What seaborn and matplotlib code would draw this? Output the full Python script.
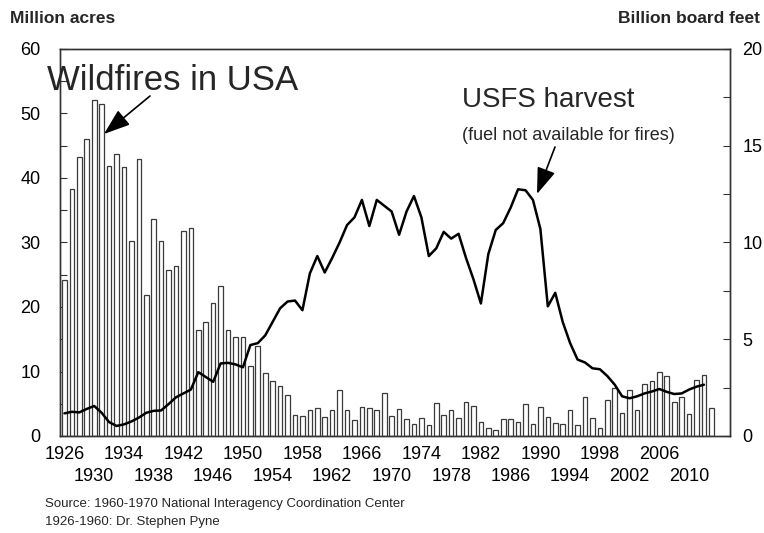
import matplotlib
matplotlib.use("Agg")
import matplotlib.pyplot as plt
import matplotlib.font_manager as fm
import numpy as np
import pandas as pd
import seaborn as sns

# ---------------- data ----------------
fire_years = list(range(1926, 2014))
fire_acres = [
    24.2, 38.3, 43.3, 46.1, 52.1, 51.5, 41.9, 43.7, 41.7, 30.2,   # 1926-1935
    43.0, 21.8, 33.6, 30.3, 25.7, 26.4, 31.8, 32.2, 16.5, 17.7,   # 1936-1945
    20.6, 23.2, 16.5, 15.3, 15.4, 10.8, 14.0, 9.8, 8.6, 7.7,      # 1946-1955
    6.4, 3.2, 3.1, 4.1, 4.4, 2.9, 4.0, 7.1, 4.1, 2.5,             # 1956-1965
    4.5, 4.4, 4.0, 6.6, 3.1, 4.2, 2.6, 1.8, 2.8, 1.7,             # 1966-1975
    5.1, 3.2, 4.0, 2.8, 5.2, 4.6, 2.2, 1.2, 1.0, 2.7,             # 1976-1985
    2.6, 2.2, 4.9, 1.8, 4.5, 2.9, 2.0, 1.8, 4.0, 1.7,             # 1986-1995
    6.0, 2.8, 1.3, 5.6, 7.4, 3.6, 7.1, 4.0, 8.0, 8.6,             # 1996-2005
    9.9, 9.3, 5.2, 6.0, 3.4, 8.7, 9.4, 4.3,                       # 2006-2013
]

harvest_years = list(range(1926, 2013))
harvest_bbf = [
    1.17, 1.25, 1.22, 1.40, 1.55, 1.20, 0.72, 0.52, 0.60, 0.75,   # 1926-1935
    0.95, 1.20, 1.30, 1.32, 1.65, 2.00, 2.20, 2.40, 3.30, 3.05,   # 1936-1945
    2.80, 3.75, 3.78, 3.70, 3.55, 4.70, 4.80, 5.20, 5.90, 6.60,   # 1946-1955
    6.95, 7.00, 6.50, 8.40, 9.30, 8.45, 9.20, 10.0, 10.9, 11.3,   # 1956-1965
    12.2, 10.85, 12.2, 11.9, 11.6, 10.4, 11.6, 12.4, 11.3, 9.30,  # 1966-1975
    9.70, 10.55, 10.2, 10.45, 9.20, 8.10, 6.85, 9.40, 10.65, 11.0,  # 1976-1985
    11.8, 12.75, 12.7, 12.2, 10.7, 6.70, 7.40, 5.90, 4.80, 3.95,  # 1986-1995
    3.80, 3.50, 3.45, 3.10, 2.65, 2.05, 1.95, 2.05, 2.20, 2.30,   # 1996-2005
    2.43, 2.28, 2.17, 2.20, 2.40, 2.55, 2.65,                     # 2006-2012
]

left_ticks = [0, 10, 20, 30, 40, 50, 60]
right_ticks = [0, 5, 10, 15, 20]
xtick_row1 = list(range(1926, 2007, 8))
xtick_row2 = list(range(1930, 2011, 8))

# ---------------- style ----------------
sns.set_style("ticks")
names = {f.name for f in fm.fontManager.ttflist}
narrow = "Liberation Sans Narrow" if "Liberation Sans Narrow" in names else "Liberation Sans"
plt.rcParams["font.family"] = ["Liberation Sans", "DejaVu Sans"]

W, H = 764, 533
fig = plt.figure(figsize=(W / 100, H / 100), dpi=100)
L, R, T, B = 60, 730, 49, 436
ax = fig.add_axes([L / W, 1 - B / H, (R - L) / W, (B - T) / H])

fire_df = pd.DataFrame({"year": fire_years, "acres": fire_acres})
harv_df = pd.DataFrame({"year": harvest_years, "bbf": harvest_bbf})

sns.barplot(data=fire_df, x="year", y="acres", native_scale=True, width=0.62,
            color="white", saturation=1, edgecolor="#3a3a3a", linewidth=0.9,
            errorbar=None, ax=ax, zorder=2)

ax2 = ax.twinx()
sns.lineplot(data=harv_df, x="year", y="bbf", color="black", linewidth=1.8,
             ax=ax2, zorder=3)

ax.set_xlim(1925.4, 2015.5)
ax.set_ylim(0, 60)
ax2.set_ylim(0, 20)
ax2.set_xlim(1925.4, 2015.5)

for a in (ax, ax2):
    a.set_xlabel("")
    a.set_ylabel("")
    for s in a.spines.values():
        s.set_color("#333333")
        s.set_linewidth(1.0)

ax.set_yticks(left_ticks)
ax.set_yticks(np.arange(5, 60, 10), minor=True)
ax.set_yticklabels([str(t) for t in left_ticks], fontsize=13)
ax2.set_yticks(right_ticks)
ax2.set_yticks(np.arange(2.5, 20, 5), minor=True)
ax2.set_yticklabels([str(t) for t in right_ticks], fontsize=13)

# first row of year labels on the main axis
ax.set_xticks(xtick_row1)
ax.set_xticks(fire_years, minor=True)
ax.set_xticklabels([str(y) for y in xtick_row1], fontsize=13)
# second (staggered) row of year labels
sec = ax.secondary_xaxis("bottom")
sec.set_xticks(xtick_row2)
sec.set_xticklabels([str(y) for y in xtick_row2], fontsize=13)
sec.spines["bottom"].set_visible(False)
sec.tick_params(axis="x", which="both", direction="in", length=4, width=0.8,
                colors="#333333", labelcolor="black", pad=23)

ax.tick_params(axis="y", which="both", direction="in", length=5, width=0.8, colors="#333333",
               labelcolor="black", pad=14)
ax2.tick_params(axis="y", which="both", direction="in", length=5, width=0.8, colors="#333333",
                labelcolor="black", pad=9)
ax.tick_params(axis="x", which="major", direction="in", length=4, width=0.8, colors="#333333",
               labelcolor="black", pad=7)
ax.tick_params(axis="x", which="minor", direction="in", length=3, width=0.6, colors="#555555")

# ---------------- texts ----------------
def fx(x):
    return x / W

def fy(y):
    return 1 - y / H

fig.text(fx(10), fy(23), "Million acres", fontsize=12.5, fontweight="bold",
         family=[narrow, "Liberation Sans"], ha="left", va="baseline")
fig.text(fx(760), fy(23), "Billion board feet", fontsize=12.5, fontweight="bold",
         family=[narrow, "Liberation Sans"], ha="right", va="baseline")

fig.text(fx(47), fy(90), "Wildfires in USA", fontsize=25, ha="left", va="baseline")
fig.text(fx(462), fy(107), "USFS harvest", fontsize=20, ha="left", va="baseline")
fig.text(fx(462), fy(140), "(fuel not available for fires)", fontsize=13, ha="left", va="baseline")

fig.text(fx(45), fy(507), "Source: 1960-1970 National Interagency Coordination Center",
         fontsize=9.5, family=[narrow, "Liberation Sans"], ha="left", va="baseline")
fig.text(fx(45), fy(525), "1926-1960: Dr. Stephen Pyne",
         fontsize=9.5, family=[narrow, "Liberation Sans"], ha="left", va="baseline")

arrow = dict(arrowstyle="-|>,head_length=0.9,head_width=0.32", color="black", lw=1.2,
             shrinkA=0, shrinkB=0)
fig.add_artist(matplotlib.patches.FancyArrowPatch(
    (150, H - 96), (104, H - 134), transform=None, mutation_scale=18, **arrow))
fig.add_artist(matplotlib.patches.FancyArrowPatch(
    (555, H - 147), (537, H - 194), transform=None, mutation_scale=18, **arrow))

fig.savefig("out.png", dpi=100, facecolor="white")
